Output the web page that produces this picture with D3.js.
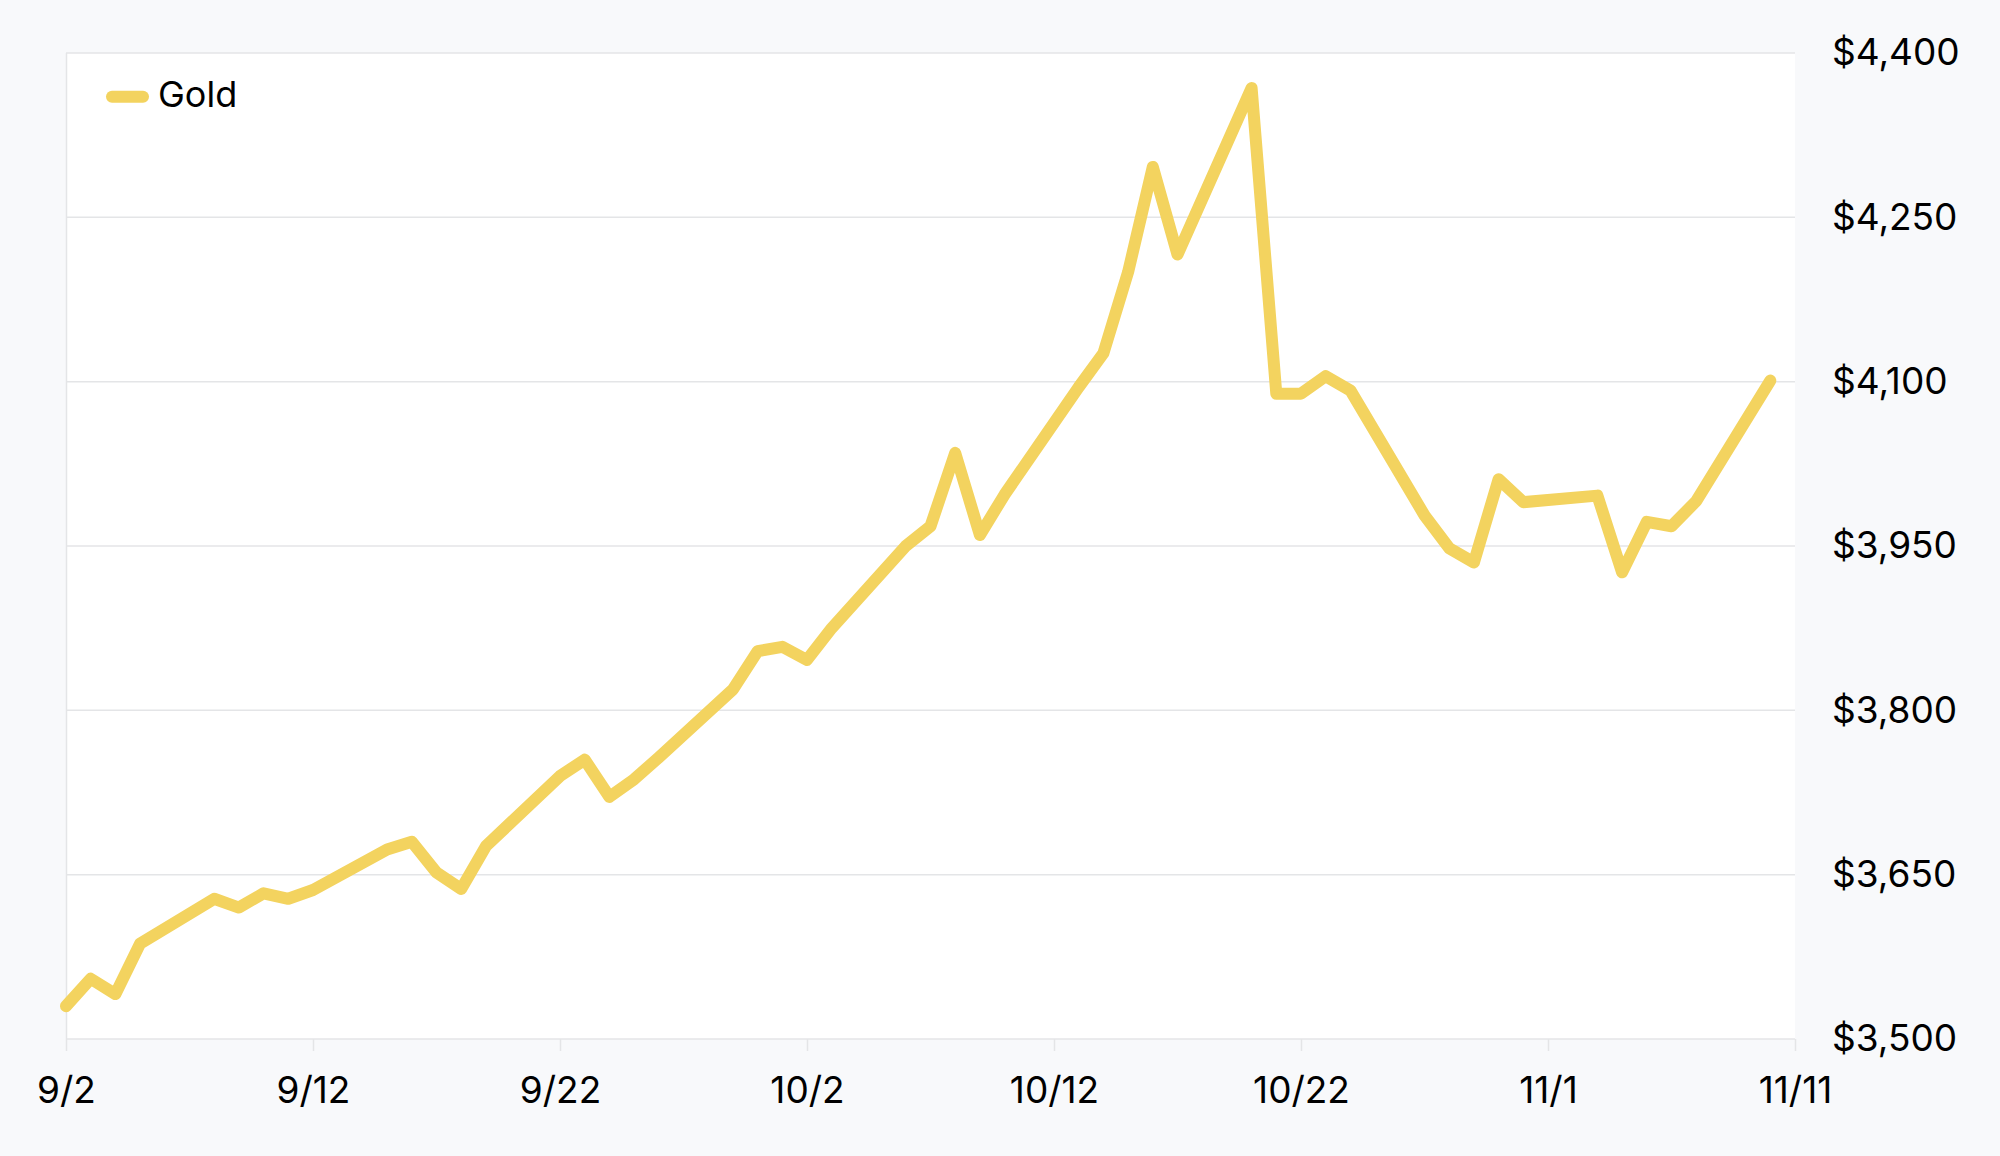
<!DOCTYPE html>
<html>
<head>
<meta charset="utf-8">
<script src="https://cdn.jsdelivr.net/npm/d3@7"></script>
<style>
  html, body { margin: 0; padding: 0; background: #f8f9fb; }
  svg { display: block; }
  text { font-family: Inter, "Noto Sans", sans-serif; fill: #000; }
</style>
</head>
<body>
<svg id="chart" width="2000" height="1156"></svg>
<script>
const dates = ["2025-09-02","2025-09-03","2025-09-04","2025-09-05","2025-09-08","2025-09-09","2025-09-10","2025-09-11","2025-09-12",
  "2025-09-15","2025-09-16","2025-09-17","2025-09-18","2025-09-19","2025-09-22","2025-09-23","2025-09-24","2025-09-25","2025-09-26",
  "2025-09-29","2025-09-30","2025-10-01","2025-10-02","2025-10-03","2025-10-06","2025-10-07","2025-10-08","2025-10-09","2025-10-10",
  "2025-10-13","2025-10-14","2025-10-15","2025-10-16","2025-10-17","2025-10-20","2025-10-21","2025-10-22","2025-10-23","2025-10-24",
  "2025-10-27","2025-10-28","2025-10-29","2025-10-30","2025-10-31","2025-11-03","2025-11-04","2025-11-05","2025-11-06","2025-11-07",
  "2025-11-10"];
const goldPrices = [3530,3555,3541,3587,3628,3620,3633,3628,3636,
  3673,3680,3652,3637,3676,3740,3755,3721,3737,3757,
  3819,3854,3858,3846,3875,3950,3968,4035,3960,3997,
  4095,4126,4200,4296,4216,4368,4089,4089,4105,4092,
  3978,3948,3935,4011,3990,3996,3926,3972,3968,3991,
  4101];
const seriesName = "Gold";
const xTickDates = ["2025-09-02","2025-09-12","2025-09-22","2025-10-02","2025-10-12","2025-10-22","2025-11-01","2025-11-11"];
const yTickValues = [3500,3650,3800,3950,4100,4250,4400];

const parse = d3.timeParse("%Y-%m-%d");
const data = dates.map((d, i) => ({date: parse(d), value: goldPrices[i]}));

const svg = d3.select("#chart");
const pLeft = 66, pRight = 1795, pTop = 53, pBottom = 1039;
const lineColor = "#f3d35f";
const gridColor = "#e4e5e7";

const x = d3.scaleTime().domain([parse(xTickDates[0]), parse(xTickDates[xTickDates.length - 1])]).range([pLeft, pRight]);
const y = d3.scaleLinear().domain([3500, 4400]).range([pBottom, pTop]);

// plot background
svg.append("rect").attr("x", pLeft).attr("y", pTop).attr("width", pRight - pLeft).attr("height", pBottom - pTop).attr("fill", "#fff");
svg.append("line").attr("x1", pLeft + 0.5).attr("x2", pLeft + 0.5).attr("y1", pTop).attr("y2", pBottom).attr("stroke", gridColor).attr("stroke-width", 1.5);

// gridlines
svg.append("g").selectAll("line").data(yTickValues).join("line")
  .attr("x1", pLeft).attr("x2", pRight)
  .attr("y1", d => y(d)).attr("y2", d => y(d))
  .attr("stroke", gridColor).attr("stroke-width", 1.5);

// x axis
const fmtX = d3.timeFormat("%-m/%-d");
const xAxis = svg.append("g").attr("transform", `translate(0,${pBottom})`)
  .call(d3.axisBottom(x).tickValues(xTickDates.map(parse)).tickFormat(fmtX).tickSize(12).tickPadding(26));
xAxis.select(".domain").remove();
xAxis.selectAll(".tick line").attr("stroke", gridColor).attr("stroke-width", 1.5);
xAxis.selectAll(".tick text").attr("font-size", 37).attr("font-family", "Inter, sans-serif").attr("fill", "#000");

// y axis (right)
const yAxis = svg.append("g").attr("transform", `translate(${pRight},0)`)
  .call(d3.axisRight(y).tickValues(yTickValues).tickFormat(d3.format("$,")).tickSize(0).tickPadding(37));
yAxis.select(".domain").remove();
yAxis.selectAll(".tick text").attr("font-size", 37).attr("font-family", "Inter, sans-serif").attr("fill", "#000").attr("text-anchor", "start");

// line
const line = d3.line().x(d => x(d.date)).y(d => y(d.value));
svg.append("path").datum(data)
  .attr("d", line)
  .attr("fill", "none")
  .attr("stroke", lineColor)
  .attr("stroke-width", 12)
  .attr("stroke-linejoin", "round")
  .attr("stroke-linecap", "round");

// legend
const lg = svg.append("g");
lg.append("line").attr("x1", 112).attr("x2", 143).attr("y1", 96.7).attr("y2", 96.7)
  .attr("stroke", lineColor).attr("stroke-width", 12).attr("stroke-linecap", "round");
lg.append("text").attr("x", 158).attr("y", 107).attr("font-size", 36).text(seriesName);
</script>
</body>
</html>
